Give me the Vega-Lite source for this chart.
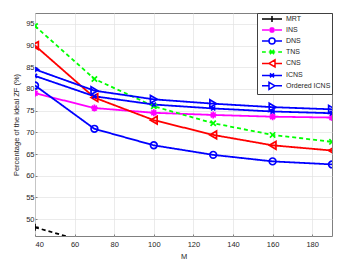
{
  "$schema": "https://vega.github.io/schema/vega-lite/v6.json",
  "width": 297,
  "height": 223,
  "autosize": {"type": "none"},
  "padding": {"left": 35, "top": 13, "right": 18, "bottom": 27},
  "background": "white",
  "config": {
    "font": "Liberation Sans",
    "view": {"stroke": "#808080", "strokeWidth": 1},
    "axis": {
      "domain": false,
      "grid": true,
      "gridColor": "#e3e3e3",
      "gridWidth": 0.7,
      "ticks": true,
      "tickColor": "#808080",
      "tickSize": -2,
      "labelFont": "Liberation Sans",
      "labelFontSize": 7.5,
      "labelColor": "#262626",
      "titleFont": "Liberation Sans",
      "titleFontSize": 7.5,
      "titleFontWeight": "normal",
      "titleColor": "#262626"
    },
    "legend": {
      "labelFont": "Liberation Sans",
      "labelFontSize": 7,
      "labelColor": "#262626",
      "title": null,
      "orient": "top-right",
      "offset": 0,
      "padding": 1,
      "rowPadding": -1.6,
      "fillColor": "white",
      "strokeColor": "#404040",
      "symbolSize": 64,
      "symbolStrokeWidth": 1.5,
      "symbolOpacity": 1,
      "symbolFillColor": "transparent",
      "symbolOffset": 9,
      "labelOffset": 9
    }
  },
  "data": {
    "values": [
      {"M": 40, "series": "MRT", "dash": "dashed", "value": 48.1},
      {"M": 70, "series": "MRT", "dash": "dashed", "value": 44.2},
      {"M": 100, "series": "MRT", "dash": "dashed", "value": 41.0},
      {"M": 130, "series": "MRT", "dash": "dashed", "value": 39.0},
      {"M": 160, "series": "MRT", "dash": "dashed", "value": 37.5},
      {"M": 190, "series": "MRT", "dash": "dashed", "value": 36.5},
      {"M": 40, "series": "INS", "dash": "solid", "value": 79.0},
      {"M": 70, "series": "INS", "dash": "solid", "value": 75.6},
      {"M": 100, "series": "INS", "dash": "solid", "value": 74.5},
      {"M": 130, "series": "INS", "dash": "solid", "value": 74.0},
      {"M": 160, "series": "INS", "dash": "solid", "value": 73.6},
      {"M": 190, "series": "INS", "dash": "solid", "value": 73.4},
      {"M": 40, "series": "DNS", "dash": "solid", "value": 80.8},
      {"M": 70, "series": "DNS", "dash": "solid", "value": 70.8},
      {"M": 100, "series": "DNS", "dash": "solid", "value": 67.0},
      {"M": 130, "series": "DNS", "dash": "solid", "value": 64.8},
      {"M": 160, "series": "DNS", "dash": "solid", "value": 63.3},
      {"M": 190, "series": "DNS", "dash": "solid", "value": 62.6},
      {"M": 40, "series": "TNS", "dash": "dashed", "value": 94.5},
      {"M": 70, "series": "TNS", "dash": "dashed", "value": 82.3},
      {"M": 100, "series": "TNS", "dash": "dashed", "value": 76.0},
      {"M": 130, "series": "TNS", "dash": "dashed", "value": 72.1},
      {"M": 160, "series": "TNS", "dash": "dashed", "value": 69.4},
      {"M": 190, "series": "TNS", "dash": "dashed", "value": 67.8},
      {"M": 40, "series": "CNS", "dash": "solid", "value": 90.0},
      {"M": 70, "series": "CNS", "dash": "solid", "value": 78.0},
      {"M": 100, "series": "CNS", "dash": "solid", "value": 72.8},
      {"M": 130, "series": "CNS", "dash": "solid", "value": 69.4},
      {"M": 160, "series": "CNS", "dash": "solid", "value": 67.0},
      {"M": 190, "series": "CNS", "dash": "solid", "value": 65.8},
      {"M": 40, "series": "ICNS", "dash": "solid", "value": 83.0},
      {"M": 70, "series": "ICNS", "dash": "solid", "value": 78.3},
      {"M": 100, "series": "ICNS", "dash": "solid", "value": 76.4},
      {"M": 130, "series": "ICNS", "dash": "solid", "value": 75.5},
      {"M": 160, "series": "ICNS", "dash": "solid", "value": 74.8},
      {"M": 190, "series": "ICNS", "dash": "solid", "value": 74.4},
      {"M": 40, "series": "Ordered ICNS", "dash": "solid", "value": 84.5},
      {"M": 70, "series": "Ordered ICNS", "dash": "solid", "value": 79.6},
      {"M": 100, "series": "Ordered ICNS", "dash": "solid", "value": 77.6},
      {"M": 130, "series": "Ordered ICNS", "dash": "solid", "value": 76.6},
      {"M": 160, "series": "Ordered ICNS", "dash": "solid", "value": 75.8},
      {"M": 190, "series": "Ordered ICNS", "dash": "solid", "value": 75.3}
    ]
  },
  "encoding": {
    "x": {
      "field": "M", "type": "quantitative",
      "scale": {"domain": [40, 190], "nice": false, "zero": false},
      "axis": {"values": [40, 60, 80, 100, 120, 140, 160, 180], "title": "M", "labelPadding": 6, "titlePadding": 5, "titleColor": "#262626"}
    },
    "y": {
      "field": "value", "type": "quantitative",
      "scale": {"domain": [46.1, 97.5], "nice": false, "zero": false},
      "axis": {"values": [50, 55, 60, 65, 70, 75, 80, 85, 90, 95], "title": "Percentage of the ideal ZF (%)", "labelPadding": 3, "titlePadding": 5, "titleColor": "#262626"}
    },
    "color": {
      "field": "series", "type": "nominal",
      "scale": {
        "domain": ["MRT", "INS", "DNS", "TNS", "CNS", "ICNS", "Ordered ICNS"],
        "range": ["#000000", "#ff00ff", "#0000ff", "#00ff00", "#ff0000", "#0000ff", "#0000ff"]
      }
    }
  },
  "layer": [
    {
      "mark": {"type": "line", "strokeWidth": 1.8, "clip": true},
      "encoding": {
        "strokeDash": {
          "field": "dash", "type": "nominal",
          "scale": {"domain": ["solid", "dashed"], "range": [[1, 0], [4, 3]]},
          "legend": null
        }
      }
    },
    {
      "transform": [{"filter": "datum.series === 'MRT'"}],
      "mark": {"type": "point", "filled": false, "strokeWidth": 1.7, "size": 50, "opacity": 1, "clip": true, "shape": "M-1,0L1,0M0,-1L0,1"}
    },
    {
      "transform": [{"filter": "datum.series === 'INS'"}],
      "mark": {"type": "point", "filled": false, "strokeWidth": 1.7, "size": 50, "opacity": 1, "clip": true, "shape": "M-1,0L1,0M0,-1L0,1M-0.7,-0.7L0.7,0.7M-0.7,0.7L0.7,-0.7"}
    },
    {
      "transform": [{"filter": "datum.series === 'DNS'"}],
      "mark": {"type": "point", "filled": false, "strokeWidth": 1.7, "size": 45, "opacity": 1, "clip": true, "shape": "circle"}
    },
    {
      "transform": [{"filter": "datum.series === 'TNS'"}],
      "mark": {"type": "point", "filled": false, "strokeWidth": 1.7, "size": 50, "opacity": 1, "clip": true, "shape": "M-0.75,-0.75L0.75,0.75M-0.75,0.75L0.75,-0.75"}
    },
    {
      "transform": [{"filter": "datum.series === 'CNS'"}],
      "mark": {"type": "point", "filled": false, "strokeWidth": 1.7, "size": 60, "opacity": 1, "clip": true, "shape": "triangle-left"}
    },
    {
      "transform": [{"filter": "datum.series === 'ICNS'"}],
      "mark": {"type": "point", "filled": false, "strokeWidth": 1.7, "size": 40, "opacity": 1, "clip": true, "shape": "M-0.65,-0.65L0.65,0.65M-0.65,0.65L0.65,-0.65"}
    },
    {
      "transform": [{"filter": "datum.series === 'Ordered ICNS'"}],
      "mark": {"type": "point", "filled": false, "strokeWidth": 1.7, "size": 60, "opacity": 1, "clip": true, "shape": "triangle-right"}
    },
    {
      "mark": {"type": "point", "filled": false, "opacity": 0, "clip": true},
      "encoding": {
        "shape": {
          "field": "series", "type": "nominal",
          "scale": {
            "domain": ["MRT", "INS", "DNS", "TNS", "CNS", "ICNS", "Ordered ICNS"],
            "range": [
              "M-2.5,0L2.5,0M0,-0.75L0,0.75",
              "M-2.5,0L2.5,0M0,-0.75L0,0.75M-0.53,-0.53L0.53,0.53M-0.53,0.53L0.53,-0.53",
              "M-2.5,0L-0.75,0M0.75,0L2.5,0M0.75,0A0.75,0.75 0 1 1 -0.75,0A0.75,0.75 0 1 1 0.75,0",
              "M-2.5,0L-1.55,0M-0.8,0L0.8,0M1.55,0L2.5,0M-0.53,-0.53L0.53,0.53M-0.53,0.53L0.53,-0.53",
              "M-2.5,0L-0.75,0M0.75,0L2.5,0M-0.75,0L0.75,-0.88L0.75,0.88Z",
              "M-2.5,0L2.5,0M-0.5,-0.5L0.5,0.5M-0.5,0.5L0.5,-0.5",
              "M-2.5,0L-0.75,0M0.75,0L2.5,0M0.75,0L-0.75,-0.88L-0.75,0.88Z"
            ]
          }
        }
      }
    }
  ]
}
